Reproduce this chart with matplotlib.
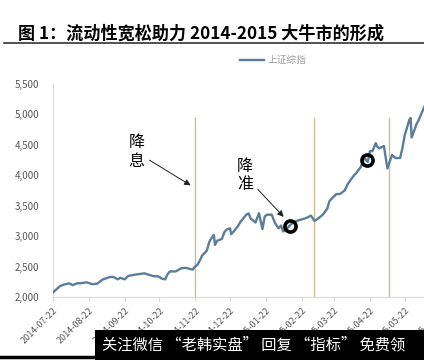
import numpy as np
import pandas as pd
import matplotlib
matplotlib.use("Agg")
import matplotlib.pyplot as plt
import matplotlib.dates as mdates
from matplotlib.lines import Line2D
from matplotlib.patches import Rectangle

plt.rcParams['font.family'] = ['Noto Sans CJK SC', 'DejaVu Sans']

# 上证综指 (approx. closes)
dates = ["2014-07-22", "2014-07-24", "2014-07-28", "2014-07-31", "2014-08-05", "2014-08-08",
         "2014-08-12", "2014-08-15", "2014-08-20", "2014-08-25", "2014-08-29", "2014-09-03",
         "2014-09-09", "2014-09-12", "2014-09-16", "2014-09-18", "2014-09-22", "2014-09-25",
         "2014-09-30", "2014-10-09", "2014-10-14", "2014-10-17", "2014-10-21", "2014-10-24",
         "2014-10-27", "2014-10-29", "2014-10-31", "2014-11-05", "2014-11-10", "2014-11-14",
         "2014-11-18", "2014-11-20", "2014-11-21", "2014-11-24", "2014-11-26", "2014-11-28",
         "2014-12-02", "2014-12-04", "2014-12-05", "2014-12-08", "2014-12-09", "2014-12-11",
         "2014-12-15", "2014-12-17", "2014-12-19", "2014-12-22", "2014-12-23", "2014-12-25",
         "2014-12-29", "2014-12-31", "2015-01-05", "2015-01-07", "2015-01-09", "2015-01-13",
         "2015-01-16", "2015-01-19", "2015-01-21", "2015-01-23", "2015-01-27", "2015-01-30",
         "2015-02-02", "2015-02-04", "2015-02-06", "2015-02-10", "2015-02-13", "2015-02-17",
         "2015-02-26", "2015-03-02", "2015-03-05", "2015-03-09", "2015-03-12", "2015-03-16",
         "2015-03-18", "2015-03-20", "2015-03-24", "2015-03-27", "2015-03-31", "2015-04-03",
         "2015-04-08", "2015-04-10", "2015-04-14", "2015-04-17", "2015-04-20", "2015-04-22",
         "2015-04-24", "2015-04-27", "2015-04-28", "2015-04-30", "2015-05-04", "2015-05-07",
         "2015-05-11", "2015-05-14", "2015-05-18", "2015-05-20", "2015-05-22", "2015-05-26",
         "2015-05-27", "2015-05-28", "2015-06-01", "2015-06-04", "2015-06-08", "2015-06-12"]
values = [2075, 2109, 2178, 2202, 2224, 2195,
          2226, 2226, 2241, 2211, 2217, 2288,
          2327, 2331, 2290, 2315, 2290, 2345,
          2364, 2389, 2358, 2341, 2340, 2302,
          2290, 2373, 2420, 2420, 2473, 2478,
          2456, 2452, 2487, 2532, 2604, 2683,
          2763, 2899, 2938, 3020, 2856, 2925,
          2953, 3061, 3108, 3128, 3032, 3072,
          3168, 3234, 3351, 3374, 3285, 3223,
          3376, 3116, 3323, 3351, 3353, 3210,
          3128, 3174, 3076, 3141, 3203, 3246,
          3298, 3336, 3248, 3302, 3349, 3449,
          3577, 3617, 3691, 3691, 3748, 3863,
          3995, 4034, 4135, 4287, 4217, 4398,
          4394, 4527, 4476, 4441, 4480, 4112,
          4333, 4282, 4283, 4446, 4657, 4910,
          4941, 4620, 4828, 4947, 5131, 5166]

# 降息 dates (vertical lines)
cut_dates = ["2014-11-22", "2015-03-05", "2015-05-08"]
# 降准 markers
rrr_dates = ["2015-02-12", "2015-04-19"]
rrr_values = [3170, 4253]

tick_dates = pd.date_range("2014-07-01", "2015-06-30", freq="MS") + pd.Timedelta(days=21)

d = pd.to_datetime(dates)

fig = plt.figure(figsize=(4.24, 3.6), dpi=100)
ax = fig.add_axes([0.125, 0.175, 0.936, 0.592])

ax.plot(d, values, color='#5b7c9a', lw=1.7, label='上证综指', zorder=3)
ax.vlines(pd.to_datetime(cut_dates), 2000, 4950, color='#cdbb9c', lw=1, zorder=2)
ax.plot(pd.to_datetime(rrr_dates), rrr_values, 'o', ms=8, mfc='none', mec='black',
        mew=2.6, zorder=4)

ax.annotate('降\n息', xy=(pd.Timestamp("2014-11-20"), 3810),
            xytext=(pd.Timestamp("2014-10-02"), 4380), fontsize=11.5, ha='center', va='center',
            linespacing=1.1,
            arrowprops=dict(arrowstyle='-|>', color='#222222', lw=0.7, mutation_scale=9))
ax.annotate('降\n准', xy=(pd.Timestamp("2015-02-08"), 3283),
            xytext=(pd.Timestamp("2015-01-04"), 3990), fontsize=11.5, ha='center', va='center',
            linespacing=1.1,
            arrowprops=dict(arrowstyle='-|>', color='#222222', lw=0.7, mutation_scale=9))

ax.set_xlim(pd.Timestamp("2014-07-22"), pd.Timestamp("2015-06-30"))
ax.set_ylim(2000, 5500)
ax.set_yticks(np.arange(2000, 5501, 500))
ax.yaxis.set_major_formatter(plt.FuncFormatter(lambda v, p: f"{int(v):,}"))
ax.set_xticks(tick_dates)
ax.xaxis.set_major_formatter(mdates.DateFormatter("%Y-%m-%d"))
plt.setp(ax.get_xticklabels(), rotation=45, ha='right', rotation_mode='anchor')
ax.tick_params(axis='x', labelsize=6.5, colors='#d9d9d9', labelcolor='#595959', length=3)
ax.tick_params(axis='y', labelsize=7, length=0, pad=10, labelcolor='#595959')
for s in ['top', 'right']:
    ax.spines[s].set_visible(False)
for s in ['left', 'bottom']:
    ax.spines[s].set_color('#d9d9d9')
    ax.spines[s].set_linewidth(0.8)

ax.legend(loc='center', bbox_to_anchor=(0.645, 0.833), bbox_transform=fig.transFigure,
          frameon=False, fontsize=7, labelcolor='#a0a0a0', handlelength=2.4, handletextpad=0.4)

fig.text(0.042, 0.907, '图 1：流动性宽松助力 2014-2015 大牛市的形成', fontsize=12.3,
         fontweight='bold', ha='left', va='center', color='black')
fig.add_artist(Line2D([0.01, 1.0], [0.881, 0.881], color='#333333', lw=1.2))
fig.add_artist(Line2D([0.0, 1.0], [0.008, 0.008], color='black', lw=2.5))

fig.add_artist(Rectangle((0.224, 0.0), 0.776, 0.083, transform=fig.transFigure,
                         facecolor='black', edgecolor='none', zorder=10))
fig.text(0.597, 0.041, '关注微信 “老韩实盘” 回复 “指标” 免费领', fontsize=11,
         color='white', ha='center', va='center', zorder=11)

fig.savefig('out.png', dpi=100)
